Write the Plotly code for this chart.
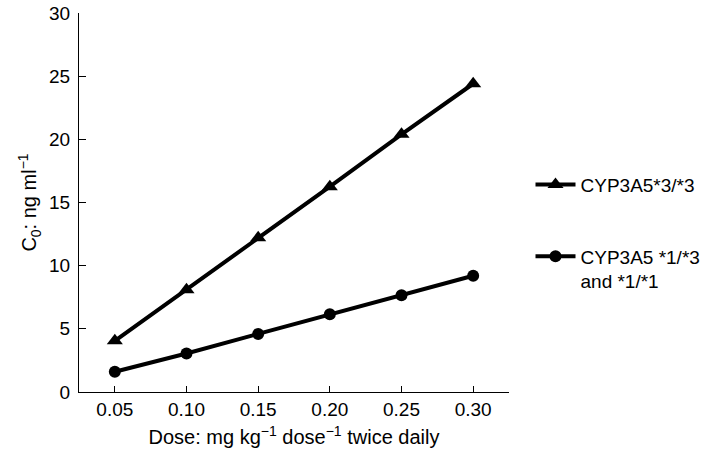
import plotly.graph_objects as go

dose = [0.05, 0.10, 0.15, 0.20, 0.25, 0.30]
c0_33 = [4.05, 8.1, 12.2, 16.25, 20.4, 24.4]
c0_13 = [1.6, 3.05, 4.6, 6.15, 7.65, 9.2]
x_tick_vals = [0.05, 0.10, 0.15, 0.20, 0.25, 0.30, 0.325]
x_tick_text = ["0.05", "0.10", "0.15", "0.20", "0.25", "0.30", ""]
y_tick_vals = [0, 5, 10, 15, 20, 25, 30]

FONT = "Liberation Sans, Arial, sans-serif"

fig = go.Figure()
fig.add_trace(go.Scatter(
    x=dose, y=c0_33, mode="lines+markers", name="CYP3A5*3/*3",
    line=dict(color="black", width=4),
    marker=dict(symbol="triangle-up", size=14, color="black"),
    legendgroup="a",
))
fig.add_trace(go.Scatter(
    x=dose, y=c0_13, mode="lines+markers", name="CYP3A5 *1/*3<br>and *1/*1",
    line=dict(color="black", width=4),
    marker=dict(symbol="circle", size=12, color="black"),
    legendgroup="b",
))

fig.update_layout(
    width=709, height=455,
    margin=dict(l=79, r=200, t=13, b=63, autoexpand=False),
    paper_bgcolor="white", plot_bgcolor="white",
    font=dict(family=FONT, size=18, color="black"),
    legend=dict(
        x=1.05, y=0.597, xanchor="left", yanchor="top",
        font=dict(size=19), traceorder="grouped", tracegroupgap=44,
        valign="top", itemwidth=40, bgcolor="rgba(0,0,0,0)",
    ),
    xaxis=dict(
        range=[0.025, 0.325], tickmode="array", tickvals=x_tick_vals, ticktext=x_tick_text,
        ticks="inside", ticklen=6, tickwidth=1.2, tickcolor="black",
        showline=True, linecolor="black", linewidth=1.2, showgrid=False, zeroline=False,
        tickfont=dict(size=19), automargin=False,
        title=dict(text="Dose: mg kg<sup>−1</sup> dose<sup>−1</sup> twice daily", font=dict(size=20), standoff=11),
    ),
    yaxis=dict(
        range=[0, 30], tickmode="array", tickvals=y_tick_vals,
        ticks="inside", ticklen=7, tickwidth=1.2, tickcolor="black",
        showline=True, linecolor="black", linewidth=1.2, showgrid=False, zeroline=False,
        tickfont=dict(size=19), ticklabelstandoff=4, automargin=False,
        ticklabeloverflow="allow",
        title=dict(text="C<sub>0</sub>: ng ml<sup>−1</sup>", font=dict(size=20), standoff=6),
    ),
)

fig.write_html("out.html", config={"displayModeBar": False},
               post_script="document.body.style.margin='0';")
